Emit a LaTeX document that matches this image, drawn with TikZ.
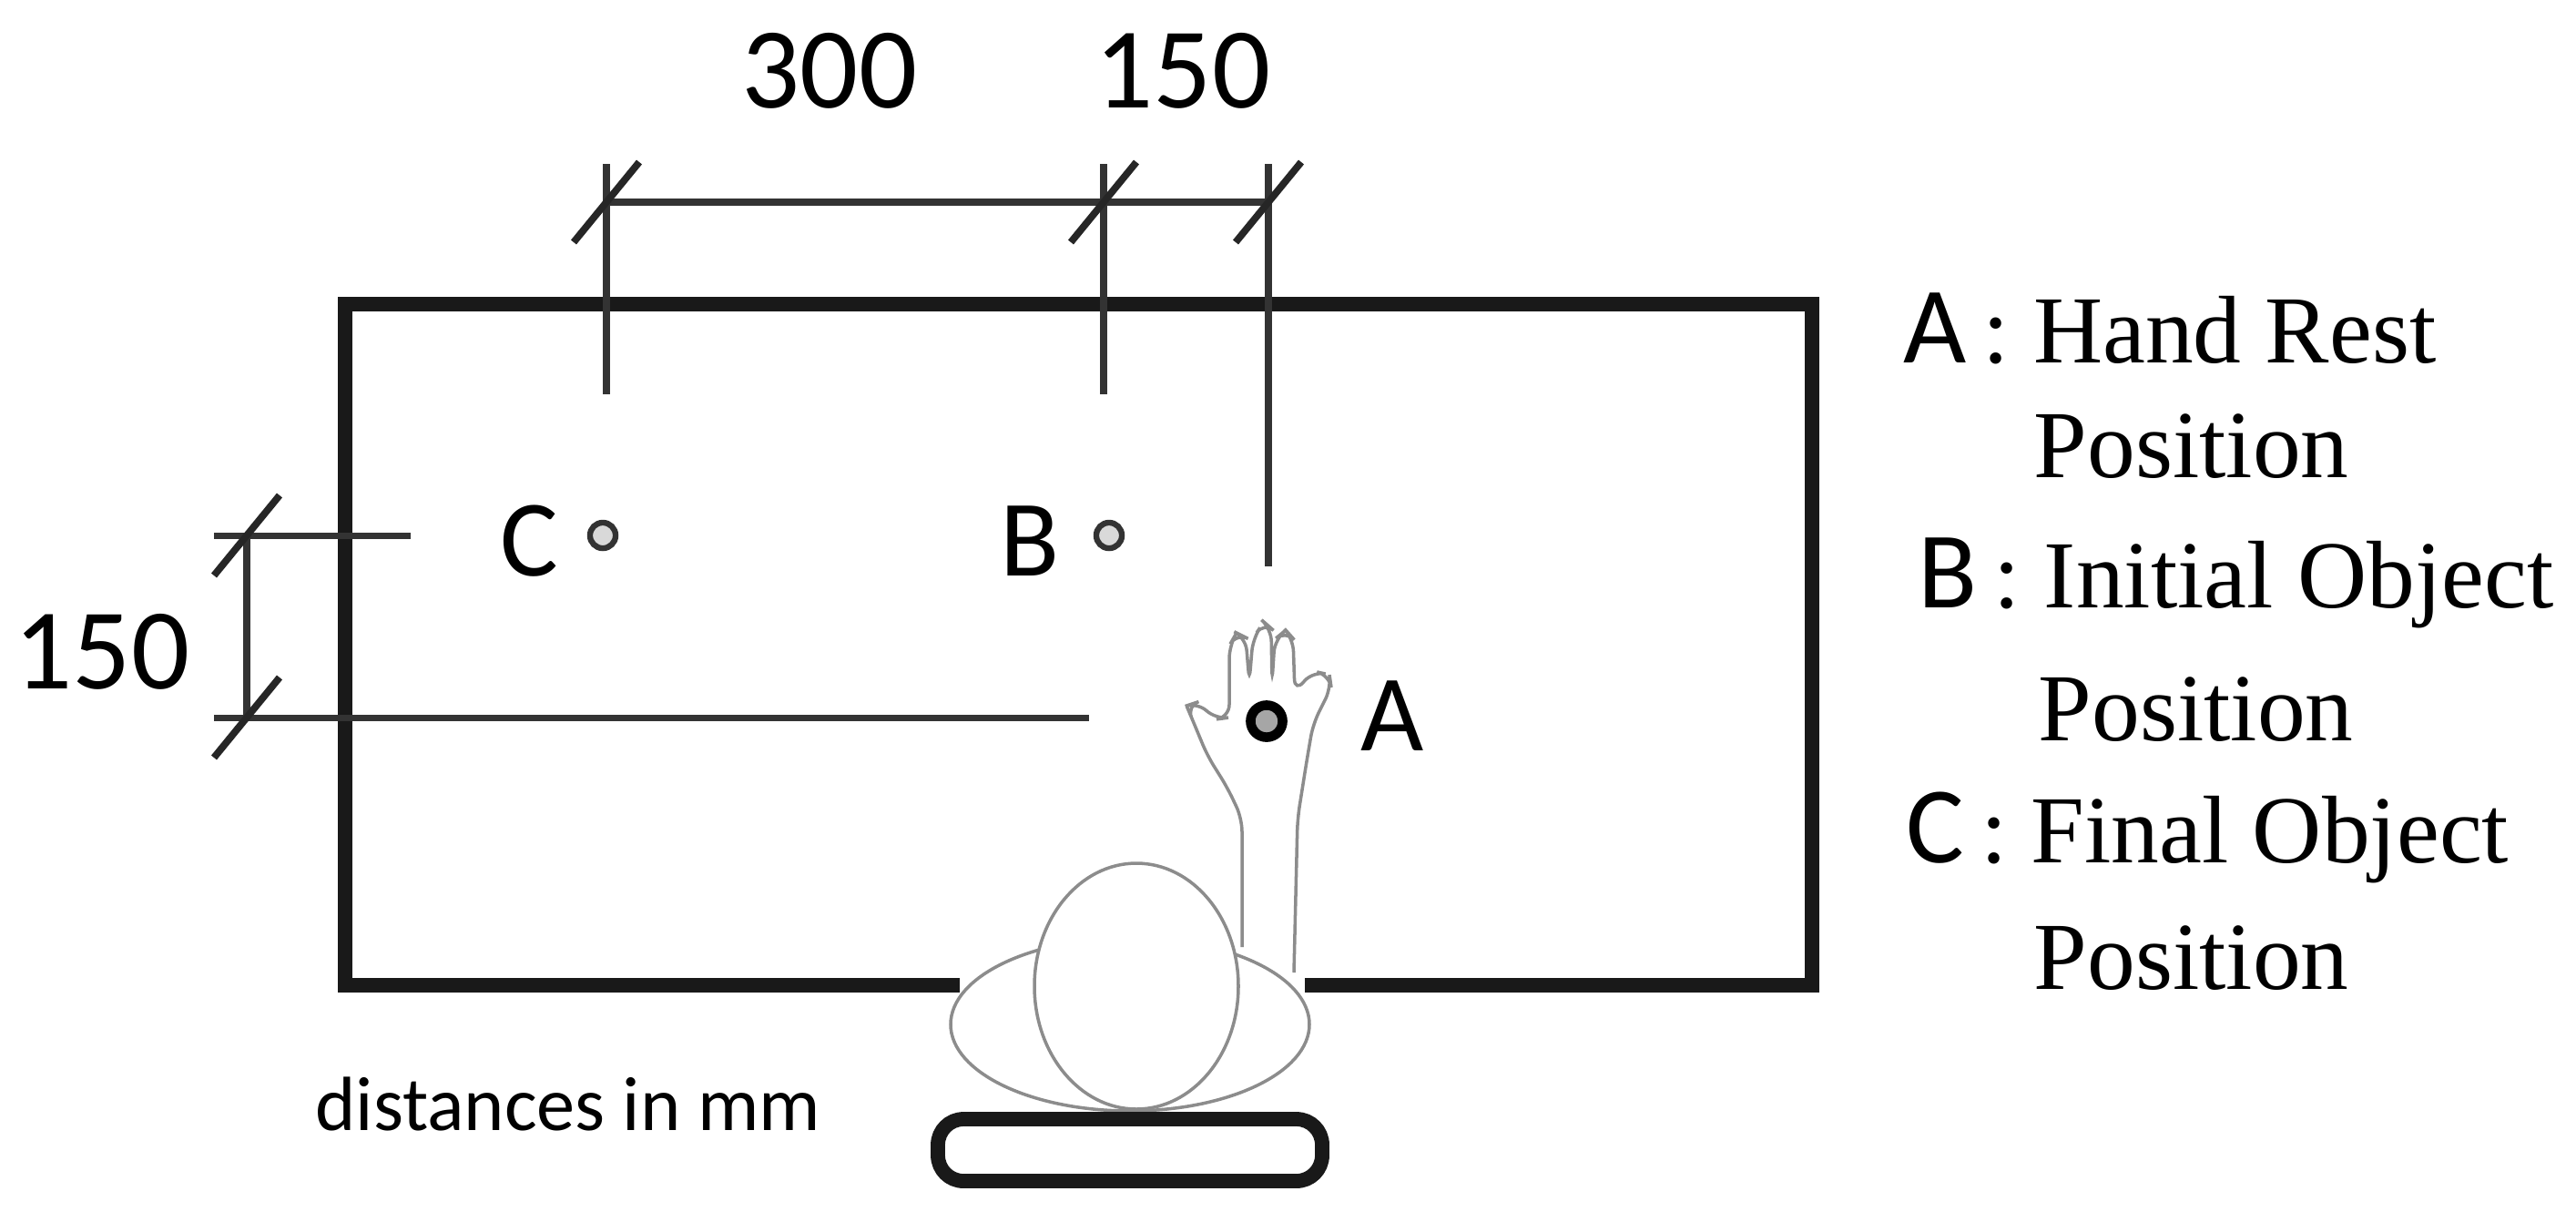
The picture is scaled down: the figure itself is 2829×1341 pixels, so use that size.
\documentclass[tikz,border=0pt]{standalone}
\usepackage{fontspec}
\setmainfont{Liberation Serif}
\newfontfamily\lblfont{Carlito}
\begin{document}
\begin{tikzpicture}[x=0.01cm,y=-0.01cm,
  thick line/.style={line width=4.5pt,draw=black!90},
  dim line/.style={line width=2pt,draw=black!80},
  tickmark/.style={line width=2.2pt,draw=black!85},
  soft/.style={line width=1pt,draw=black!45},
  dimtext/.style={font=\lblfont\fontsize{36}{40}\selectfont,inner sep=0pt},
  ptext/.style={font=\lblfont\fontsize{34}{40}\selectfont,inner sep=0pt},
  lgd/.style={font=\fontsize{30}{34}\selectfont,inner sep=0pt,anchor=west},
  dot/.style={circle,draw=black!80,line width=1.8pt,fill=black!15,minimum size=8pt,inner sep=0pt}]
\useasboundingbox (0,0) rectangle (2829,1341);
% table
\draw[thick line] (1054,1082) -- (379,1082) -- (379,334) -- (1990,334) -- (1990,1082) -- (1433,1082);
% top dimension
\coordinate (t1) at (666,222); \coordinate (t2) at (1212,222); \coordinate (t3) at (1393,222);
\draw[dim line] (t1) -- (t3);
\draw[dim line] (666,180) -- (666,433);
\draw[dim line] (1212,180) -- (1212,433);
\draw[dim line] (1393,180) -- (1393,622);
\foreach \c in {t1,t2,t3} \draw[tickmark] ([shift={(-36,44)}]\c) -- ([shift={(36,-44)}]\c);
\node[dimtext] (d300) at (911,78) {300};
\node[dimtext] (d150a) at (1299,78) {150};
% left dimension
\coordinate (l1) at (271,588); \coordinate (l2) at (271,788);
\draw[dim line] (l1) -- (l2);
\draw[dim line] (235,588) -- (451,588);
\draw[dim line] (235,788) -- (1196,788);
\foreach \c in {l1,l2} \draw[tickmark] ([shift={(-36,44)}]\c) -- ([shift={(36,-44)}]\c);
\node[dimtext] (d150b) at (112,716) {150};
% points
\node[dot] (C) at (662,588) {};
\node[ptext] (Cl) at (581,594) {C};
\node[dot] (B) at (1218,588) {};
\node[ptext] (Bl) at (1131,594) {B};
% person
\draw[soft,fill=white] (1241,1125) ellipse (197 and 95);
\draw[soft,fill=white] (1248,1083) ellipse (112 and 135);
\draw[soft,fill=white,rounded corners=4pt] (1364,1040) -- (1364,899) -- (1348,865) -- (1326,830) -- (1309,789) -- (1303,775) -- (1315,771) -- (1335,790) -- (1350,788)
  -- (1350,709) -- (1358,695) -- (1368,700) -- (1372,749) -- (1376,701) -- (1388,683) -- (1396,690) -- (1397,749)
  -- (1400,702) -- (1412,692) -- (1420,701) -- (1422,760) -- (1442,737) -- (1460,741) -- (1462,755) -- (1442,795)
  -- (1435,836) -- (1425,899) -- (1421,1068);
\node[dot,minimum size=10pt,line width=3pt,draw=black,fill=black!35] (A) at (1391,792) {};
\node[ptext] (Al) at (1529,786) {A};
\draw[thick line,rounded corners=8pt] (1030,1229) rectangle (1452,1297);
\node[font=\lblfont\fontsize{24}{28}\selectfont,inner sep=0pt] (units) at (624,1212) {distances in mm};
% legend
\node[lgd] (la) at (2090,361) {{\lblfont\fontsize{34}{40}\selectfont A}\,: Hand Rest};
\node[lgd] (la2) at (2233,490) {Position};
\node[lgd] (lb) at (2106,640) {{\lblfont\fontsize{34}{40}\selectfont B}\,: Initial Object};
\node[lgd] (lb2) at (2238,779) {Position};
\node[lgd] (lc) at (2093,920) {{\lblfont\fontsize{34}{40}\selectfont C}\,: Final Object};
\node[lgd] (lc2) at (2233,1052) {Position};
\end{tikzpicture}
\end{document}
